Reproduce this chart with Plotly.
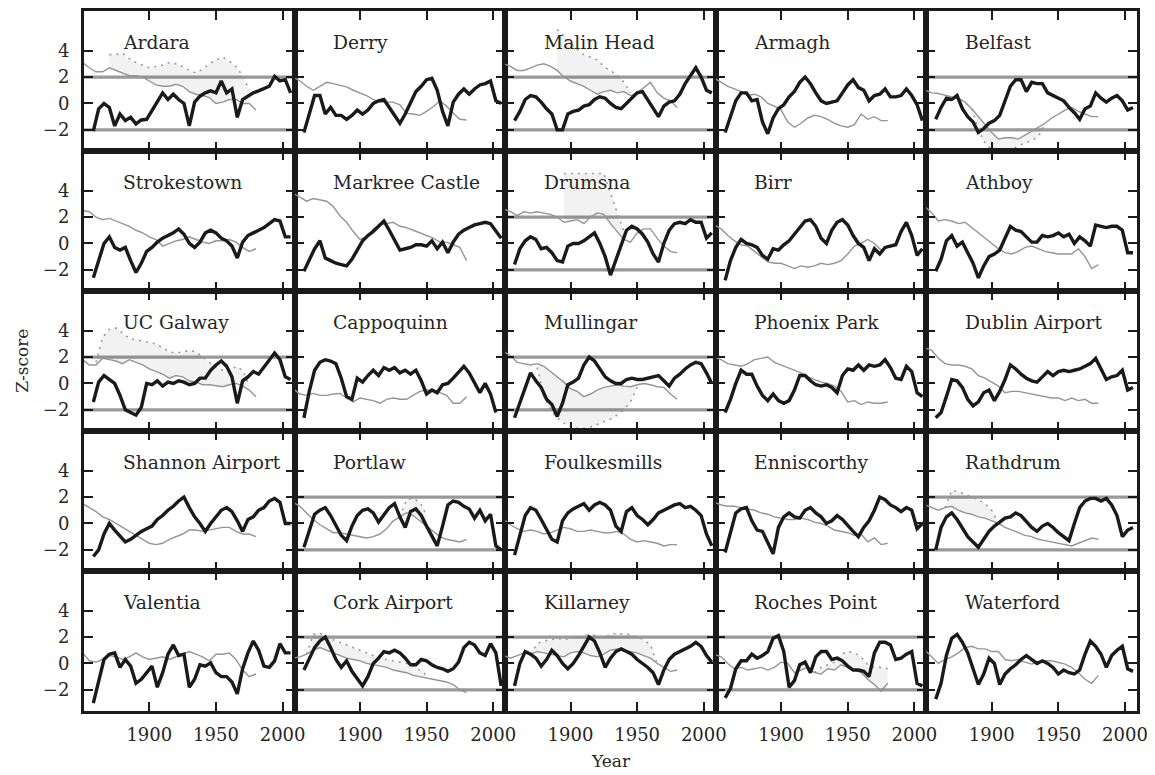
import plotly.graph_objects as go
from plotly.subplots import make_subplots

# ---------------- data ----------------
BLACK_YEARS = list(range(1858, 2007, 4))   # 38 points
GRAY_YEARS = list(range(1850, 1981, 5))    # 27 points

STATIONS = ["Ardara", "Derry", "Malin Head", "Armagh", "Belfast",
            "Strokestown", "Markree Castle", "Drumsna", "Birr", "Athboy",
            "UC Galway", "Cappoquinn", "Mullingar", "Phoenix Park", "Dublin Airport",
            "Shannon Airport", "Portlaw", "Foulkesmills", "Enniscorthy", "Rathdrum",
            "Valentia", "Cork Airport", "Killarney", "Roches Point", "Waterford"]

ARDARA_Z = [-2.1, -0.4, 0.0, -0.3, -1.7, -0.8, -1.3, -1.05, -1.55, -1.25, -1.2, -0.55, 0.1, 0.8, 0.3, 0.7, 0.3, 0.0, -1.7, 0.1, 0.55, 0.8, 0.95, 0.8, 1.7, 0.8, 1.1, -1.05, 0.3, 0.55, 0.8, 0.95, 1.1, 1.3, 2.05, 1.7, 1.8, 0.8]
ARDARA_REF = [3.1, 2.7, 2.4, 2.4, 2.7, 2.5, 2.3, 2.1, 2.1, 2.0, 1.7, 1.4, 1.3, 1.3, 1.45, 1.3, 0.9, 0.7, 0.6, 0.45, 0.0, 0.1, 0.3, 0.3, 0.0, 0.0, -0.5]
DERRY_Z = [-2.2, -0.8, 0.6, 0.6, -0.8, -0.3, -0.9, -0.9, -1.2, -0.9, -0.5, -0.8, -0.5, 0.0, 0.2, 0.3, -0.3, -1.0, -1.5, -0.8, 0.0, 0.9, 1.3, 1.8, 1.9, 1.0, -0.6, -1.7, 0.1, 0.7, 1.1, 0.7, 1.1, 1.4, 1.5, 1.7, 0.2, 0.0]
DERRY_REF = [2.0, 1.7, 1.3, 1.0, 1.3, 1.6, 1.5, 1.4, 1.25, 1.0, 0.8, 0.6, 0.3, 0.1, 0.1, 0.1, -0.1, -0.75, -0.8, -0.9, -0.6, -0.25, 0.2, -0.2, -0.75, -1.2, -1.25]
MALIN_Z = [-1.3, -0.6, 0.3, 0.6, 0.5, 0.1, -0.4, -0.8, -2.0, -2.0, -0.8, -0.6, -0.5, -0.2, -0.1, 0.3, 0.5, 0.4, 0.0, -0.3, -0.4, 0.0, 0.4, 0.8, 0.9, 0.3, -0.3, -1.0, -0.2, 0.1, 0.2, 0.7, 1.5, 2.1, 2.7, 2.0, 1.0, 0.8]
MALIN_REF = [3.0, 2.8, 2.5, 2.5, 2.7, 2.9, 3.0, 2.8, 2.5, 2.0, 1.7, 1.5, 1.3, 1.0, 0.7, 0.9, 1.0, 0.8, 0.9, 0.6, 0.8, 1.2, 1.6, 0.8, 0.4, 0.2, -0.3]
ARMAGH_Z = [-2.2, -1.0, 0.2, 0.8, 0.8, 0.2, 0.3, -1.4, -2.3, -1.1, -0.4, -0.1, 0.5, 0.9, 1.6, 2.0, 1.5, 0.8, 0.2, 0.0, 0.1, 0.2, 0.8, 1.4, 1.8, 1.2, 1.0, 0.2, 0.6, 0.7, 1.1, 0.5, 0.5, 0.6, 1.1, 0.6, -0.1, -1.3]
ARMAGH_REF = [1.9, 1.6, 1.3, 1.1, 0.9, 0.6, 0.7, 0.5, 0.0, -0.2, -0.5, -1.4, -1.8, -1.5, -1.1, -0.9, -1.0, -1.2, -1.5, -1.7, -1.8, -1.6, -0.8, -1.2, -1.0, -1.3, -1.3]
BELFAST_Z = [-1.2, -0.3, 0.4, 0.3, 0.6, -0.4, -1.0, -1.4, -2.2, -1.9, -1.5, -1.3, -0.9, 0.2, 1.3, 1.8, 1.8, 0.9, 1.6, 1.5, 1.5, 0.8, 0.6, 0.4, 0.2, -0.3, -0.7, -1.2, -0.4, -0.2, 0.8, 0.4, 0.1, 0.4, 0.6, 0.2, -0.5, -0.3]
BELFAST_REF = [1.0, 0.8, 0.75, 0.6, 0.5, 0.4, 0.1, -0.4, -1.0, -1.6, -2.2, -2.7, -2.6, -2.6, -2.7, -2.4, -2.1, -1.8, -1.5, -1.1, -0.8, -0.5, -0.3, -0.6, -0.8, -1.0, -1.0]
STROKESTOWN_Z = [-2.6, -1.3, 0.0, 0.5, -0.3, -0.5, -0.3, -1.3, -2.2, -1.5, -0.6, -0.3, 0.1, 0.4, 0.6, 0.8, 1.1, 0.7, 0.0, -0.3, 0.1, 0.8, 1.0, 0.8, 0.4, 0.2, -0.2, -1.1, 0.1, 0.6, 0.8, 1.0, 1.2, 1.5, 1.8, 1.7, 0.5, 0.5]
STROKESTOWN_REF = [2.5, 2.4, 2.0, 1.8, 1.9, 1.7, 1.5, 1.3, 1.0, 0.8, 0.5, 0.3, -0.2, 0.0, 0.2, 0.3, 0.5, 0.3, 0.1, 0.0, 0.2, 0.2, 0.3, 0.1, -0.3, -0.6, -0.4]
MARKREE_Z = [-2.1, -1.2, -0.4, 0.2, -1.1, -1.3, -1.5, -1.6, -1.7, -1.2, -0.5, 0.2, 0.6, 0.9, 1.3, 1.7, 1.0, 0.3, -0.5, -0.4, -0.3, -0.1, -0.1, -0.2, 0.2, -0.4, 0.1, -0.7, 0.1, 0.7, 1.0, 1.2, 1.4, 1.5, 1.6, 1.5, 1.0, 0.4]
MARKREE_REF = [3.8, 3.5, 3.2, 3.4, 3.3, 3.2, 2.8, 2.1, 1.6, 0.9, 0.3, 0.5, 1.1, 1.4, 1.5, 1.6, 1.3, 1.2, 1.0, 0.8, 0.6, 0.4, 0.1, 0.1, -0.1, -0.3, -1.3]
DRUMSNA_Z = [-1.6, -0.4, 0.2, 0.5, 0.3, -0.4, -0.3, -0.7, -1.3, -1.4, -0.2, 0.0, 0.0, 0.2, 0.5, 0.8, 0.0, -1.0, -2.4, -1.2, 0.0, 1.0, 1.3, 1.1, 0.7, 0.1, -0.8, -1.4, 0.0, 1.0, 1.5, 1.6, 1.5, 1.8, 1.6, 1.6, 0.4, 0.8]
DRUMSNA_REF = [2.6, 2.4, 2.1, 2.4, 2.3, 2.4, 2.3, 2.2, 2.0, 1.6, 1.7, 1.8, 1.5, 2.0, 2.3, 2.2, 1.5, 0.9, 0.3, 0.1, 0.8, 1.1, 1.1, 0.4, -0.2, -0.6, -0.7]
BIRR_Z = [-2.8, -1.3, -0.3, 0.3, 0.0, -0.1, -0.3, -0.9, -1.2, -0.4, -0.5, -0.1, 0.2, 0.7, 1.2, 1.7, 1.8, 1.3, 0.4, 0.0, 1.0, 1.6, 1.8, 1.4, 0.6, 0.0, -0.3, -1.3, -0.4, -0.8, -0.3, -0.2, -0.1, 0.9, 1.6, 0.6, -0.9, -0.4]
BIRR_REF = [1.4, 1.1, 0.6, 0.2, -0.1, -0.2, -0.6, -1.0, -1.4, -1.5, -1.5, -1.7, -1.9, -1.7, -1.8, -1.7, -1.5, -1.6, -1.5, -1.3, -0.8, -0.2, 0.0, 0.3, 0.0, -0.5, -0.3]
ATHBOY_Z = [-2.1, -1.2, 0.2, 0.6, -0.2, 0.1, -0.7, -1.5, -2.6, -1.7, -1.0, -0.8, -0.5, 0.4, 1.3, 1.0, 0.9, 0.5, 0.1, 0.1, 0.6, 0.5, 0.6, 0.8, 0.5, 0.7, 0.0, 0.5, 0.2, -0.2, 1.4, 1.3, 1.2, 1.3, 1.3, 1.0, -0.7, -0.7]
ATHBOY_REF = [2.8, 2.3, 1.7, 1.8, 1.7, 1.5, 1.6, 1.2, 0.8, 0.4, 0.0, -0.4, -0.7, -0.8, -0.6, -0.3, -0.2, -0.4, -0.6, -0.7, -0.8, -0.8, -0.8, -0.4, -1.0, -1.9, -1.6]
GALWAY_Z = [-1.4, 0.1, 0.6, 0.3, 0.0, -0.9, -2.0, -2.2, -2.4, -1.8, 0.0, -0.1, 0.2, -0.2, 0.1, 0.0, 0.2, 0.1, -0.1, 0.0, 0.4, 0.4, 1.0, 1.4, 1.7, 1.3, 0.5, -1.5, 0.2, 0.5, 0.9, 0.7, 1.2, 1.7, 2.3, 1.8, 0.5, 0.3]
GALWAY_REF = [1.8, 1.4, 1.4, 1.9, 1.8, 1.7, 1.5, 1.8, 1.6, 1.4, 1.1, 0.9, 0.7, 0.4, 0.6, 0.5, 0.2, 0.1, -0.1, -0.1, -0.2, -0.25, -0.1, 0.0, -0.2, -0.5, -1.0]
CAPPOQUINN_Z = [-2.6, -0.6, 1.0, 1.6, 1.8, 1.7, 1.5, 0.4, -1.0, -1.2, 0.4, 0.1, 0.6, 1.0, 0.6, 1.2, 1.0, 1.2, 0.8, 1.0, 0.7, 1.0, 0.2, -0.8, -0.5, -0.7, -0.1, 0.0, 0.4, 0.9, 1.3, 0.8, 0.0, -0.7, 0.0, -0.8, -2.2, None]
CAPPOQUINN_REF = [-0.4, -0.8, -0.9, -0.75, -0.9, -0.9, -0.8, -0.75, -1.1, -1.4, -1.1, -1.2, -1.3, -1.5, -1.2, -1.1, -1.2, -1.2, -0.9, -0.6, -0.5, -0.5, -0.7, -0.9, -1.5, -1.5, -1.0]
MULLINGAR_Z = [-2.6, -1.5, -0.4, 0.8, 0.2, -0.3, -1.2, -1.6, -2.5, -1.5, -0.1, 0.1, 0.4, 1.4, 2.0, 1.7, 1.1, 0.5, 0.2, 0.0, 0.0, 0.3, 0.4, 0.3, 0.3, 0.4, 0.5, 0.6, 0.2, -0.2, 0.4, 0.7, 1.1, 1.4, 1.6, 1.5, 0.8, 0.0]
MULLINGAR_REF = [2.4, 2.1, 1.6, 1.5, 1.4, 1.5, 1.3, 0.9, 0.5, 0.1, -0.4, -0.6, -1.0, -0.8, -0.5, -0.3, -0.2, -0.1, -0.2, -0.25, -0.1, 0.0, -0.1, -0.25, -0.3, -0.8, -1.2]
PHOENIX_Z = [-2.2, -1.2, 0.0, 1.0, 0.7, 0.7, -0.2, -0.9, -1.3, -0.8, -1.3, -1.5, -1.3, -0.5, 0.6, 0.6, 0.2, -0.1, -0.2, -0.1, -0.3, -0.7, 0.6, 1.1, 1.0, 1.4, 1.0, 1.4, 1.3, 1.4, 1.8, 1.2, 0.4, 0.3, 1.3, 0.9, -0.7, -1.0]
PHOENIX_REF = [2.0, 1.8, 1.5, 1.4, 1.3, 1.5, 1.8, 1.9, 2.0, 1.6, 1.4, 1.2, 1.0, 0.8, 0.5, 0.3, 0.1, 0.0, -0.2, -0.6, -1.4, -1.3, -1.6, -1.4, -1.5, -1.5, -1.4]
DUBLIN_Z = [-2.6, -2.2, -1.0, 0.3, 0.2, -0.3, -1.2, -1.7, -1.4, -0.7, -0.5, -1.3, -0.6, 0.3, 1.4, 1.1, 0.7, 0.4, 0.2, 0.1, 0.5, 0.9, 0.6, 0.9, 1.0, 0.9, 1.0, 1.1, 1.3, 1.5, 1.9, 1.1, 0.3, 0.5, 0.6, 1.0, -0.5, -0.3]
DUBLIN_REF = [2.7, 2.5, 1.9, 1.5, 1.4, 1.4, 1.3, 1.1, 0.6, 0.4, 0.1, -0.2, -0.7, -0.6, -0.6, -0.7, -0.8, -0.9, -1.0, -1.1, -1.1, -1.3, -1.1, -1.3, -1.2, -1.5, -1.5]
SHANNON_Z = [-2.5, -2.0, -0.8, 0.0, -0.5, -1.0, -1.4, -1.2, -0.9, -0.6, -0.4, -0.2, 0.3, 0.6, 1.0, 1.3, 1.7, 2.0, 1.2, 0.5, 0.0, -0.6, 0.0, 0.5, 1.0, 1.2, 0.9, 0.2, -0.6, 0.3, 0.5, 1.0, 1.2, 1.7, 1.9, 1.6, 0.0, 0.0]
SHANNON_REF = [1.5, 1.2, 0.9, 0.5, 0.3, 0.0, -0.3, -0.6, -0.9, -1.2, -1.5, -1.6, -1.5, -1.2, -1.0, -0.8, -0.5, -0.5, -0.6, -0.5, -0.4, -0.3, -0.3, -0.6, -0.8, -0.8, -1.0]
PORTLAW_Z = [-1.8, -0.6, 0.7, 1.0, 1.2, 0.6, -0.2, -0.9, -1.3, -0.2, 0.6, 1.0, 1.1, 0.8, 0.1, 0.6, 1.2, 1.5, 0.5, -0.3, 0.9, 1.1, 0.6, -0.2, -1.0, -1.7, -0.2, 1.4, 1.7, 1.6, 1.3, 1.1, 0.4, 1.0, 0.2, 0.7, -1.7, -2.0]
PORTLAW_REF = [1.6, 1.3, 0.8, 0.3, -0.1, -0.4, -0.7, -0.7, -0.8, -0.9, -1.0, -1.1, -1.0, -0.8, -0.4, 0.2, 0.5, 0.8, 0.6, 0.2, -0.2, -0.6, -1.0, -1.2, -1.3, -1.4, -1.2]
FOULKES_Z = [-2.4, -0.8, 0.6, 1.2, 1.0, 0.3, -0.5, -1.2, -1.4, 0.2, 0.8, 1.1, 1.3, 1.5, 1.0, 1.4, 1.6, 1.4, 1.0, -0.2, -0.6, 0.9, 1.2, 0.6, 0.3, -0.1, 0.3, 0.8, 1.0, 1.2, 1.4, 1.5, 1.2, 1.3, 1.0, 0.6, -0.8, -1.7]
FOULKES_REF = [0.3, -0.1, -0.4, -0.6, -0.5, -0.6, -0.8, -0.7, -0.5, -0.3, -0.4, -0.6, -0.6, -0.5, -0.6, -0.7, -0.7, -0.6, -0.8, -1.2, -1.4, -1.3, -1.4, -1.5, -1.7, -1.6, -1.6]
ENNIS_Z = [-2.2, -0.6, 0.8, 1.1, 1.2, 0.2, -0.5, -0.6, -1.5, -2.3, -0.3, 0.5, 0.8, 0.5, 0.4, 1.0, 1.2, 0.8, 0.5, 0.0, 0.2, 0.6, 0.3, -0.2, -0.6, -1.0, -0.3, 0.2, 1.0, 2.0, 1.8, 1.4, 1.2, 0.9, 1.2, 1.0, -0.4, 0.0]
ENNIS_REF = [1.6, 1.4, 1.3, 1.3, 1.2, 1.1, 1.0, 0.8, 0.7, 0.5, 0.4, 0.3, 0.3, 0.4, 0.3, 0.1, 0.0, -0.2, -0.5, -0.6, -0.7, -0.9, -0.8, -1.4, -1.1, -1.6, -1.5]
RATHDRUM_Z = [-2.0, -0.3, 0.5, 0.8, 0.3, -0.3, -1.0, -1.4, -1.8, -1.2, -0.6, -0.2, 0.1, 0.4, 0.5, 0.8, 0.6, 0.1, -0.3, -0.6, -0.2, 0.0, -0.3, -0.7, -1.0, -1.3, 0.0, 1.2, 1.7, 1.9, 1.9, 1.7, 1.9, 1.4, 0.6, -1.0, -0.5, -0.3]
RATHDRUM_REF = [1.4, 1.2, 1.0, 1.2, 1.3, 1.0, 0.8, 0.7, 0.5, 0.4, 0.2, 0.0, -0.3, -0.5, -0.7, -0.9, -1.0, -1.2, -1.3, -1.4, -1.5, -1.6, -1.7, -1.5, -1.3, -1.1, -1.2]
VALENTIA_Z = [-3.0, -1.4, 0.3, 0.7, 0.8, -0.3, 0.3, -0.2, -1.5, -1.2, -0.7, -0.2, -1.8, -0.7, 0.7, 1.4, 0.6, 0.7, -1.8, -1.2, -0.1, -0.2, 0.05, -0.7, -1.0, -1.0, -1.4, -2.3, -0.4, 0.8, 1.7, 1.0, -0.2, -0.3, 0.2, 1.5, 0.8, 0.8]
VALENTIA_REF = [0.8, 0.2, 0.1, 0.3, 0.6, 0.5, 0.3, 0.5, 0.8, 0.5, 0.3, 0.4, 0.5, 0.3, 0.5, 0.7, 0.9, 0.7, 0.5, 0.2, 0.7, 0.7, 0.8, 0.3, -0.5, -1.0, -0.8]
CORK_Z = [-0.5, 0.3, 1.2, 1.7, 2.0, 1.2, 0.3, -0.3, 0.2, -0.6, -1.2, -1.7, -1.0, 0.0, 0.4, 0.9, 0.8, 1.0, 0.8, 0.4, -0.1, -0.1, 0.3, 0.2, -0.1, -0.3, -0.4, -0.6, -0.4, 0.1, 1.2, 1.6, 1.4, 0.8, 0.6, 1.5, 0.8, -1.7]
CORK_REF = [0.4, 0.5, 0.7, 1.0, 1.2, 1.0, 0.8, 0.6, 0.4, 0.3, 0.2, 0.0, -0.1, -0.2, -0.3, -0.5, -0.6, -0.7, -0.9, -1.0, -1.1, -1.2, -1.3, -1.4, -1.6, -2.0, -2.2]
KILLARNEY_Z = [-1.7, 0.0, 0.9, 0.7, 0.4, -0.2, 0.3, 1.0, 0.6, 0.0, -0.4, 0.0, 0.6, 1.3, 2.0, 1.7, 0.8, -0.3, 0.4, 0.9, 1.1, 0.9, 0.7, 0.3, 0.0, -0.3, -0.7, -1.6, -0.5, 0.3, 0.7, 0.9, 1.1, 1.3, 1.6, 1.3, 0.6, 0.1]
KILLARNEY_REF = [0.6, 0.4, 0.6, 0.8, 0.7, 0.9, 0.8, 0.7, 0.6, 0.5, 0.8, 0.9, 0.8, 0.6, 0.5, 0.7, 1.0, 1.1, 1.0, 0.9, 0.8, 0.6, 0.4, 0.0, -0.3, -0.6, -0.5]
ROCHES_Z = [-2.6, -1.9, -0.4, 0.2, 0.2, 0.7, 0.4, 0.6, 0.9, 1.9, 2.1, 0.9, -1.8, -1.3, -0.1, 0.1, -0.7, 0.5, 0.9, 0.9, 0.3, 0.4, 0.2, -0.2, -0.5, -0.5, -0.6, -1.0, 0.8, 1.6, 1.6, 1.4, 0.3, 0.4, 0.7, 0.9, -1.5, -1.7]
ROCHES_REF = [0.7, 0.5, 0.0, -0.4, -0.3, -0.5, -0.4, -0.3, -0.5, -0.3, 0.1, 0.0, -0.7, -0.5, -0.3, -0.7, -0.8, -0.4, -0.5, -0.1, -0.3, -0.5, -0.7, -1.2, -1.6, -2.1, -1.5]
WATERFORD_Z = [-2.7, -1.5, 0.6, 1.9, 2.2, 1.6, 0.8, -0.5, -1.6, -0.8, 0.4, 0.0, -1.6, -0.8, -0.4, -0.1, 0.3, 0.6, 0.3, 0.0, 0.2, 0.0, -0.3, -0.8, -0.5, -0.7, -0.8, -0.5, 0.7, 1.7, 1.3, 0.7, -0.3, 0.6, 1.0, 1.3, -0.4, -0.6]
WATERFORD_REF = [1.0, 0.5, 0.0, 0.3, 0.5, 0.8, 1.2, 1.3, 1.1, 1.1, 0.9, 0.9, 0.3, 0.2, 0.3, 0.1, -0.05, 0.1, 0.2, 0.2, 0.1, -0.05, -0.3, -0.7, -1.2, -1.5, -0.9]

# shaded bands: (first year on GRAY_YEARS grid, dotted-edge values)
ARDARA_BAND = [3.7, 3.7, 3.8, 3.4, 3.1, 2.9, 2.7, 2.8, 2.9, 3.1, 3.0, 2.8, 2.5, 2.3, 2.6, 3.0, 3.3, 3.5, 3.2, 2.8, 2.1, 1.0]
MALIN_BAND = [5.6, 5.1, 4.6, 4.1, 3.7, 3.5, 3.3, 2.8, 2.45, 2.2, 1.6, 0.8]
BELFAST_BAND = [-0.4, -2.0, -3.0, -3.5, -3.6, -3.6, -3.5, -3.2, -3.0, -2.8, -2.5, -1.6]
DRUMSNA_BAND = [5.3, 5.3, 5.3, 5.3, 5.3, 5.3, 5.3, 3.8, 2.4, 0.9]
GALWAY_BAND = [1.6, 3.5, 4.1, 4.2, 3.8, 3.4, 3.3, 3.2, 3.1, 3.0, 2.7, 2.4, 2.3, 2.4, 2.5, 2.4, 2.0, 1.6, 1.3, 1.0, 0.9, 1.3, 1.0, -0.2]
MULLINGAR_BAND = [1.2, -1.0, -2.0, -2.6, -3.0, -3.3, -3.4, -3.4, -3.3, -3.1, -2.9, -2.7, -2.4, -2.0, -1.4, -0.3]
PORTLAW_BAND = [0.5, 1.8, 1.9, 1.6, 0.6]
RATHDRUM_BAND = [1.2, 2.5, 2.4, 2.2, 2.0, 1.8, 1.5, 1.0, 0.0]
CORK_BAND = [0.7, 2.2, 2.3, 2.0, 1.8, 1.6, 1.4, 1.2, 1.0, 0.8, 0.6, 0.4, 0.3, 0.2, 0.1, 0.0, -0.2, -0.5, -0.9]
KILLARNEY_BAND = [0.7, 1.5, 1.7, 1.8, 1.9, 1.8, 1.9, 2.0, 2.1, 2.2, 2.1, 2.0, 2.2, 2.3, 2.2, 2.2, 2.0, 1.8, 1.4, 0.0]
ROCHES_BAND = [-0.7, -0.3, -0.1, 0.1, 0.7, 0.9, 0.8, 0.5, -0.1, -0.3, -0.3, -0.4]

SERIES = [ARDARA_Z, DERRY_Z, MALIN_Z, ARMAGH_Z, BELFAST_Z,
          STROKESTOWN_Z, MARKREE_Z, DRUMSNA_Z, BIRR_Z, ATHBOY_Z,
          GALWAY_Z, CAPPOQUINN_Z, MULLINGAR_Z, PHOENIX_Z, DUBLIN_Z,
          SHANNON_Z, PORTLAW_Z, FOULKES_Z, ENNIS_Z, RATHDRUM_Z,
          VALENTIA_Z, CORK_Z, KILLARNEY_Z, ROCHES_Z, WATERFORD_Z]
REFS = [ARDARA_REF, DERRY_REF, MALIN_REF, ARMAGH_REF, BELFAST_REF,
        STROKESTOWN_REF, MARKREE_REF, DRUMSNA_REF, BIRR_REF, ATHBOY_REF,
        GALWAY_REF, CAPPOQUINN_REF, MULLINGAR_REF, PHOENIX_REF, DUBLIN_REF,
        SHANNON_REF, PORTLAW_REF, FOULKES_REF, ENNIS_REF, RATHDRUM_REF,
        VALENTIA_REF, CORK_REF, KILLARNEY_REF, ROCHES_REF, WATERFORD_REF]
BANDS = {"Ardara": (1870, ARDARA_BAND), "Malin Head": (1890, MALIN_BAND),
         "Belfast": (1885, BELFAST_BAND), "Drumsna": (1895, DRUMSNA_BAND),
         "UC Galway": (1860, GALWAY_BAND), "Mullingar": (1875, MULLINGAR_BAND),
         "Portlaw": (1930, PORTLAW_BAND), "Rathdrum": (1865, RATHDRUM_BAND),
         "Cork Airport": (1860, CORK_BAND), "Killarney": (1870, KILLARNEY_BAND),
         "Roches Point": (1925, ROCHES_BAND)}

X_TICKS = [1900, 1950, 2000]
Y_TICKS = [4, 2, 0, -2]
Y_TICKTEXT = ["4", "2", "0", "\u22122"]
THRESHOLDS = [-2, 2]
X_RANGE = [1851, 2009]
Y_RANGE = [-3.6, 7.0]
LABEL_X = 1878.5
LABEL_Y = 4.6

# ---------------- figure ----------------
FONT = "DejaVu Serif"
TXT = "#262626"
fig = make_subplots(rows=5, cols=5, horizontal_spacing=0, vertical_spacing=0)

for k, name in enumerate(STATIONS):
    r, c = k // 5 + 1, k % 5 + 1
    z, ref = SERIES[k], REFS[k]
    if name in BANDS:
        start, edge = BANDS[name]
        i0 = GRAY_YEARS.index(start)
        yrs = GRAY_YEARS[i0:i0 + len(edge)]
        base = ref[i0:i0 + len(edge)]
        fig.add_trace(go.Scatter(x=yrs + yrs[::-1], y=list(edge) + base[::-1],
                                 mode="lines", fill="toself",
                                 fillcolor="rgba(0,0,0,0.05)",
                                 line=dict(width=0, color="rgba(0,0,0,0)"),
                                 hoverinfo="skip", showlegend=False), row=r, col=c)
        fig.add_trace(go.Scatter(x=yrs, y=edge, mode="lines",
                                 line=dict(color="#9a9a9a", width=1.6, dash="2px,5px"),
                                 hoverinfo="skip", showlegend=False), row=r, col=c)
    for t in THRESHOLDS:
        fig.add_hline(y=t, line=dict(color="#999999", width=3.2), layer="below",
                      row=r, col=c)
    fig.add_trace(go.Scatter(x=GRAY_YEARS, y=ref, mode="lines",
                             line=dict(color="#959595", width=1.4),
                             showlegend=False), row=r, col=c)
    fig.add_trace(go.Scatter(x=BLACK_YEARS, y=z, mode="lines",
                             line=dict(color="#1a1a1a", width=3.4),
                             showlegend=False), row=r, col=c)
    fig.add_annotation(x=LABEL_X, y=LABEL_Y, text=name, showarrow=False,
                       xanchor="left", yanchor="middle",
                       font=dict(family=FONT, size=18.7, color=TXT), row=r, col=c)

fig.update_xaxes(range=X_RANGE, tickvals=X_TICKS, ticks="inside", ticklen=9,
                 tickwidth=2, tickcolor="#1a1a1a", showline=True, linewidth=3,
                 linecolor="#1a1a1a", mirror="ticks", showgrid=False,
                 zeroline=False, showticklabels=False,
                 tickfont=dict(family=FONT, size=18, color=TXT),
                 ticklabelstandoff=5)
fig.update_xaxes(showticklabels=True, row=5)
fig.update_yaxes(range=Y_RANGE, tickvals=Y_TICKS, ticktext=Y_TICKTEXT,
                 ticks="inside", ticklen=9, tickwidth=2, tickcolor="#1a1a1a",
                 showline=True, linewidth=3, linecolor="#1a1a1a", mirror="ticks",
                 showgrid=False, zeroline=False, showticklabels=False,
                 tickfont=dict(family=FONT, size=18, color=TXT),
                 ticklabelstandoff=8)
fig.update_yaxes(showticklabels=True, col=1)

fig.add_annotation(text="Z-score", xref="paper", yref="paper", x=-0.059, y=0.5,
                   textangle=-90, showarrow=False, xanchor="center", yanchor="middle",
                   font=dict(family=FONT, size=17, color=TXT))
fig.add_annotation(text="Year", xref="paper", yref="paper", x=0.5, y=-0.072,
                   showarrow=False, xanchor="center", yanchor="middle",
                   font=dict(family=FONT, size=17, color=TXT))

# the page body has an 8px margin, so the figure is sized/margined to land
# the plotting area at the same pixels as the reference
fig.update_layout(width=1147, height=767, paper_bgcolor="white",
                  plot_bgcolor="white", margin=dict(l=76, r=18, t=0, b=64),
                  showlegend=False, hovermode=False)

fig.write_html("out.html")
